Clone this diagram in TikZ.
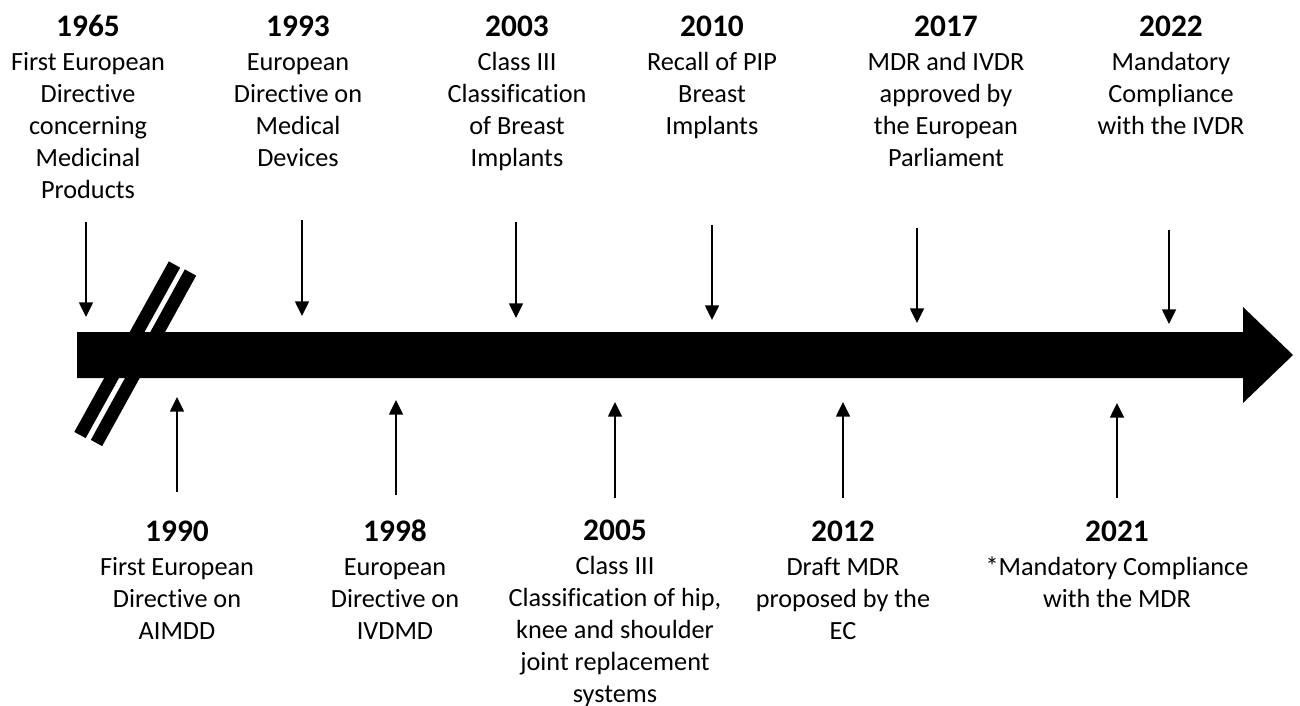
\documentclass[tikz,border=0pt]{standalone}
\usepackage{fontspec}
\setmainfont{Carlito}[RawFeature={-liga}]
\usetikzlibrary{arrows.meta}
\newcommand\eventyear[1]{{\fontsize{23.5}{24}\selectfont\bfseries #1}\\[1.5pt]}
\begin{document}
\begin{tikzpicture}[x=0.75pt,y=-0.75pt,
  event/.style={anchor=base, align=center, inner sep=0pt,
    font=\fontsize{19.7}{24}\selectfont},
  marker/.style={line width=1.1pt, -{Triangle[length=11pt,width=10.5pt]}},
  breakstripe/.style={line width=9.7pt, line cap=butt}]
\useasboundingbox (0,0) rectangle (1300,706);

% axis break: two slanted stripes behind the bar
\coordinate (s1a) at (174.5,264.5); \coordinate (s1b) at (80,435);
\coordinate (s2a) at (190.5,272.5); \coordinate (s2b) at (96.5,443);
\draw[breakstripe] (s1a) -- (s1b);
\draw[breakstripe] (s2a) -- (s2b);

% the time axis
\fill (77,332) -- (1243,332) -- (1243,307) -- (1293,355) -- (1243,403)
      -- (1243,378) -- (77,378) -- cycle;

% events above the axis (each node is placed by the baseline of its last line)
\node[event] (e1965) at (88,198.5)  {\eventyear{1965}First European\\Directive\\concerning\\Medicinal\\Products};
\node[event] (e1993) at (298,167)   {\eventyear{1993}European\\Directive on\\Medical\\Devices};
\node[event] (e2003) at (517,167)   {\eventyear{2003}Class III\\Classification\\of Breast\\Implants};
\node[event] (e2010) at (712,134.5) {\eventyear{2010}Recall of PIP\\Breast\\Implants};
\node[event] (e2017) at (946,166.5) {\eventyear{2017}MDR and IVDR\\approved by\\the European\\Parliament};
\node[event] (e2022) at (1171,134.5){\eventyear{2022}Mandatory\\Compliance\\with the IVDR};

% events below the axis
\node[event] (e1990) at (177,639)  {\eventyear{1990}First European\\Directive on\\AIMDD};
\node[event] (e1998) at (395,639)  {\eventyear{1998}European\\Directive on\\IVDMD};
\node[event] (e2005) at (615,702)  {\eventyear{2005}Class III\\Classification of hip,\\knee and shoulder\\joint replacement\\systems};
\node[event] (e2012) at (843,639)  {\eventyear{2012}Draft MDR\\proposed by the\\EC};
\node[event] (e2021) at (1117,607) {\eventyear{2021}*Mandatory Compliance\\with the MDR};

% pointers onto the axis
\coordinate (p1965a) at (86,222);   \coordinate (p1965b) at (86,317);
\coordinate (p1993a) at (302,220);  \coordinate (p1993b) at (302,316);
\coordinate (p2003a) at (516,222);  \coordinate (p2003b) at (516,318);
\coordinate (p2010a) at (712,225);  \coordinate (p2010b) at (712,320);
\coordinate (p2017a) at (917,228);  \coordinate (p2017b) at (917,323);
\coordinate (p2022a) at (1169,230); \coordinate (p2022b) at (1169,324);
\coordinate (p1990a) at (177,492);  \coordinate (p1990b) at (177,397);
\coordinate (p1998a) at (396,495);  \coordinate (p1998b) at (396,400);
\coordinate (p2005a) at (615,498);  \coordinate (p2005b) at (615,402);
\coordinate (p2012a) at (843,498);  \coordinate (p2012b) at (843,402);
\coordinate (p2021a) at (1117,498); \coordinate (p2021b) at (1117,403);
\foreach \y in {1965,1993,2003,2010,2017,2022,1990,1998,2005,2012,2021}
  \draw[marker] (p\y a) -- (p\y b);
\end{tikzpicture}
\end{document}
